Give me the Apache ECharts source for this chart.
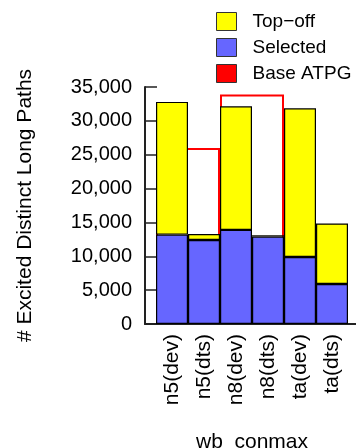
<!DOCTYPE html>
<html>
<head>
<meta charset="utf-8">
<script src="https://cdn.jsdelivr.net/npm/echarts@6/dist/echarts.min.js"></script>
<style>
html,body{margin:0;padding:0;background:#fff;}
#c{width:356px;height:448px;}
</style>
</head>
<body>
<div id="c"></div>
<script>
const categories = ['n5(dev)', 'n5(dts)', 'n8(dev)', 'n8(dts)', 'ta(dev)', 'ta(dts)'];
const groups = ['n5', 'n8', 'ta'];
const selected = [13200, 12400, 13900, 12900, 9900, 5900];
const topoff = [19600, 900, 18250, 200, 21950, 8950];
const baseATPG = [26000, 33900, 13900];
const yTicks = { min: 0, max: 35000, interval: 5000 };

const FONT = '"Liberation Sans", Arial, sans-serif';
const chart = echarts.init(document.getElementById('c'), null, { renderer: 'canvas' });

chart.setOption({
  animation: false,
  backgroundColor: '#fff',
  textStyle: { fontFamily: FONT, color: '#000' },
  legend: {
    orient: 'vertical',
    left: 216,
    top: 12,
    itemWidth: 20,
    itemHeight: 18,
    itemGap: 7,
    icon: 'rect',
    padding: 0,
    itemStyle: { borderColor: '#333', borderWidth: 1 },
    textStyle: { fontSize: 19, color: '#000', fontFamily: FONT, padding: [0, 0, 0, 11] },
    data: [
      { name: 'Top\u2212off' },
      { name: 'Selected' },
      { name: 'Base ATPG', itemStyle: { color: '#FF0000', borderColor: '#333', borderWidth: 1 } }
    ]
  },
  grid: [
    { left: 156, right: 8, top: 87, bottom: 124, containLabel: false, outerBoundsMode: 'none' },
    { left: 145, right: 0, top: 87, bottom: 124, containLabel: false, outerBoundsMode: 'none' }
  ],
  xAxis: [
    {
      type: 'category', gridIndex: 0, data: categories,
      axisLine: { show: false }, axisTick: { show: false },
      axisLabel: { rotate: 90, margin: 10, fontSize: 21, color: '#000', fontFamily: FONT, interval: 0 },
      name: 'wb_conmax', nameLocation: 'middle', nameGap: 108,
      nameTextStyle: { fontSize: 21, color: '#000', fontFamily: FONT }
    },
    {
      type: 'category', gridIndex: 0, data: groups, show: false
    },
    {
      type: 'value', gridIndex: 1, min: 0, max: 1,
      axisLine: { show: true, onZero: false, lineStyle: { color: '#222', width: 2 } },
      axisTick: { show: false }, axisLabel: { show: false }, splitLine: { show: false }
    }
  ],
  yAxis: [
    {
      type: 'value', gridIndex: 0, min: yTicks.min, max: yTicks.max, interval: yTicks.interval,
      offset: 11,
      axisLine: { show: true, lineStyle: { color: '#222', width: 2 } },
      axisTick: { show: true, inside: true, length: 12, lineStyle: { color: '#222', width: 1.5 } },
      splitLine: { show: false },
      axisLabel: {
        margin: 13, fontSize: 20, color: '#000', fontFamily: FONT,
        formatter: v => v.toLocaleString('en-US')
      },
      name: '# Excited Distinct Long Paths', nameLocation: 'middle', nameGap: 109,
      nameTextStyle: { fontSize: 21, color: '#000', fontFamily: FONT }
    },
    {
      type: 'value', gridIndex: 1, min: 0, max: 1, show: false
    }
  ],
  series: [
    {
      name: 'Base ATPG', type: 'bar', xAxisIndex: 1, yAxisIndex: 0,
      data: baseATPG, barWidth: '100%', barGap: 0,
      itemStyle: { color: 'rgba(255,255,255,0)', borderColor: '#FF0000', borderWidth: 2 },
      z: 1
    },
    {
      name: 'Selected', type: 'bar', xAxisIndex: 0, yAxisIndex: 0, stack: 'a',
      data: selected, barWidth: '100%', barGap: 0,
      itemStyle: { color: '#6666FF', borderColor: '#000', borderWidth: 1.2 },
      z: 3
    },
    {
      name: 'Top\u2212off', type: 'bar', xAxisIndex: 0, yAxisIndex: 0, stack: 'a',
      data: topoff, barWidth: '100%', barGap: 0,
      itemStyle: { color: '#FFFF00', borderColor: '#000', borderWidth: 1.2 },
      z: 3
    }
  ]
});
</script>
</body>
</html>
